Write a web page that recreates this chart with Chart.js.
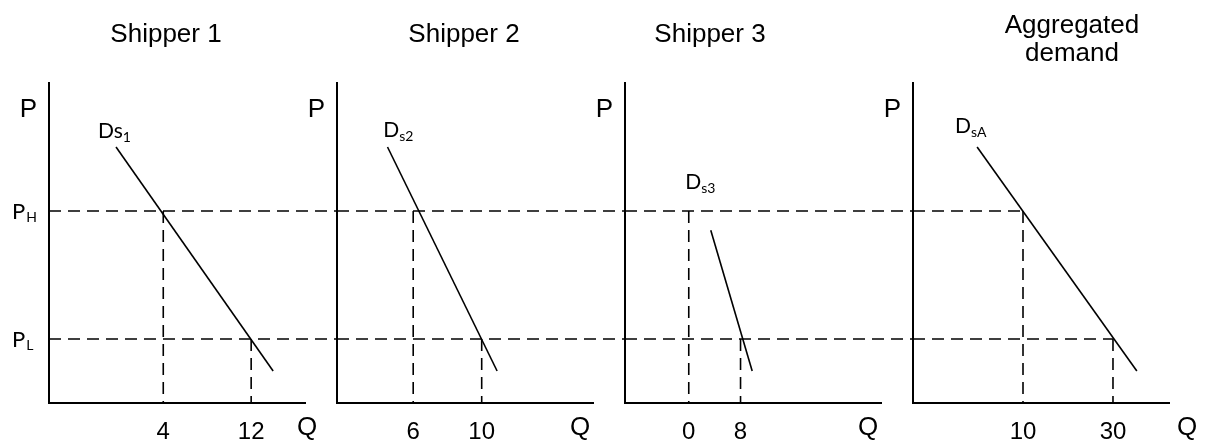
<!DOCTYPE html>
<html>
<head>
<meta charset="utf-8">
<script src="https://cdn.jsdelivr.net/npm/chart.js@4.4.0/dist/chart.umd.min.js"></script>
<style>
  html, body { margin: 0; padding: 0; background: #fff; }
  #wrap { position: relative; width: 1205px; height: 443px; overflow: hidden; }
  #wrap canvas { position: absolute; top: 0; }
</style>
</head>
<body>
<div id="wrap"></div>
<script>
// price levels on the P axis (schematic units)
const priceHigh = 6;
const priceLow = 2;
const priceMax = 10;

const panelTitles = [['Shipper 1'], ['Shipper 2'], ['Shipper 3'], ['Aggregated', 'demand']];

// quantity taken at P_H and at P_L = the tick labels of each Q axis
const qAtHigh = [4, 6, 0, 10];
const qAtLow = [12, 10, 8, 30];

// visible Q range of each panel (the sketch is not drawn to scale)
const qMin = [-6.4, 1.55, -9.85, -14.45];
const qMax = [16.9, 16.5, 29.7, 42.45];

// demand curves, end points as [Q, P]
const demandStart = [[-0.3, 8], [4.5, 8], [3.4, 5.4], [-0.2, 8]];
const demandEnd = [[14, 1], [10.9, 1], [9.8, 1], [35.3, 1]];

// curve names: main text + subscript, anchored at [Q, P]
const demandMain = ['Ds', 'D', 'D', 'D'];
const demandSub = ['1', 's2', 's3', 'sA'];
const demandLabelAt = [[-1.95, 8.28], [4.25, 8.3], [-0.55, 6.7], [-5.1, 8.45]];

// page layout
const PANEL_STEP = 288;
const CANVAS_W = 337;
const CANVAS_H = 443;
const titleCenter = [166, 464, 710, 1072];
const titleBase = [[42], [33, 61]];
const qLabelDx = [2, -13, -13, 18];

const ARIAL = '"Liberation Sans", Arial, sans-serif';
const CALIBRI = 'Lato, "Noto Sans", sans-serif';

const textPlugin = {
  id: 'panelText',
  afterDraw(chart, args, opts) {
    const { ctx, chartArea: a, scales: { x, y } } = chart;
    const i = opts.index;
    const left = i * PANEL_STEP;
    ctx.save();
    ctx.fillStyle = '#000';
    ctx.textBaseline = 'alphabetic';

    // panel title
    ctx.font = '26px ' + ARIAL;
    ctx.textAlign = 'center';
    const lines = panelTitles[i];
    lines.forEach((t, k) => ctx.fillText(t, titleCenter[i] - left, titleBase[lines.length - 1][k]));

    // axis names
    ctx.textAlign = 'right';
    ctx.fillText('P', a.left - 12, a.top + 34);
    ctx.textAlign = 'center';
    ctx.fillText('Q', a.right + qLabelDx[i], 435);

    // curve name
    ctx.textAlign = 'left';
    let px = x.getPixelForValue(demandLabelAt[i][0]);
    const py = y.getPixelForValue(demandLabelAt[i][1]);
    ctx.font = '21px ' + CALIBRI;
    ctx.fillText(demandMain[i], px, py);
    px += ctx.measureText(demandMain[i]).width;
    ctx.font = '14px ' + CALIBRI;
    ctx.fillText(demandSub[i], px, py + 4);

    // P_H and P_L on the first panel
    if (i === 0) {
      [['H', priceHigh], ['L', priceLow]].forEach(([s, v]) => {
        const by = y.getPixelForValue(v) + 8;
        ctx.font = '22px ' + CALIBRI;
        ctx.fillText('P', a.left - 37, by);
        const w = ctx.measureText('P').width;
        ctx.font = '14px ' + CALIBRI;
        ctx.fillText(s, a.left - 37 + w + 1, by + 3);
      });
    }
    ctx.restore();
  }
};

const wrap = document.getElementById('wrap');

function makeChart(i) {
  const canvas = document.createElement('canvas');
  canvas.width = CANVAS_W;
  canvas.height = CANVAS_H;
  canvas.style.left = (i * PANEL_STEP) + 'px';
  wrap.appendChild(canvas);

  const last = i === 3;
  const far = qMax[i] + (qMax[i] - qMin[i]);
  const dashed = {
    borderColor: '#000', borderWidth: 1.6, borderDash: [12, 7],
    pointRadius: 0, showLine: true, clip: false
  };
  const axisBorder = { display: true, color: '#000', width: 2 };

  new Chart(canvas, {
    type: 'scatter',
    data: {
      datasets: [
        {
          data: [
            { x: demandStart[i][0], y: demandStart[i][1] },
            { x: demandEnd[i][0], y: demandEnd[i][1] }
          ],
          borderColor: '#000', borderWidth: 1.6, pointRadius: 0, showLine: true
        },
        { ...dashed, data: [{ x: qMin[i], y: priceHigh }, { x: last ? qAtHigh[i] : far, y: priceHigh }] },
        { ...dashed, data: [{ x: qMin[i], y: priceLow }, { x: last ? qAtLow[i] : far, y: priceLow }] },
        { ...dashed, data: [{ x: qAtHigh[i], y: priceHigh }, { x: qAtHigh[i], y: 0 }] },
        { ...dashed, data: [{ x: qAtLow[i], y: priceLow }, { x: qAtLow[i], y: 0 }] }
      ]
    },
    options: {
      responsive: false,
      animation: false,
      events: [],
      layout: { padding: { left: 49, right: 32, top: 83, bottom: 0 } },
      plugins: {
        legend: { display: false },
        tooltip: { enabled: false },
        panelText: { index: i }
      },
      scales: {
        x: {
          type: 'linear',
          min: qMin[i],
          max: qMax[i],
          grid: { display: false, drawTicks: false },
          border: axisBorder,
          afterBuildTicks: s => { s.ticks = [qAtHigh[i], qAtLow[i]].map(v => ({ value: v })); },
          afterFit: s => { s.height = 40; },
          ticks: {
            autoSkip: false, maxRotation: 0, padding: 15, color: '#000',
            font: { family: ARIAL, size: 24 },
            callback: v => String(v)
          }
        },
        y: {
          type: 'linear',
          min: 0,
          max: priceMax,
          grid: { display: false, drawTicks: false },
          border: axisBorder,
          ticks: { display: false },
          afterFit: s => { s.width = 0; }
        }
      }
    },
    plugins: [textPlugin]
  });
}

for (let i = 0; i < 4; i++) makeChart(i);
</script>
</body>
</html>
